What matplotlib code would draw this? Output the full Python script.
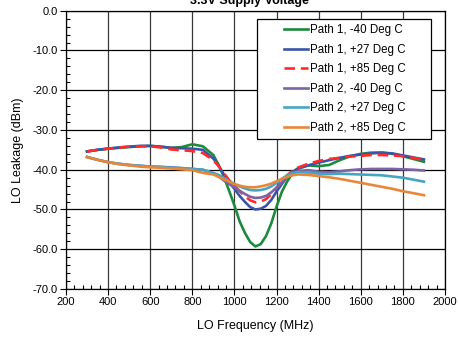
import matplotlib
matplotlib.use('Agg')
import matplotlib.pyplot as plt
from matplotlib.legend_handler import HandlerLine2D
from matplotlib.ticker import MultipleLocator
import numpy as np

plt.rcParams['font.family'] = ['Liberation Sans', 'DejaVu Sans']

# ------------ data ------------ #
freq = [300, 350, 400, 450, 500, 550, 600, 650, 700, 750, 800, 850,
        900, 925, 950, 975, 1000, 1025, 1050, 1075, 1100, 1125, 1150, 1175, 1200, 1225, 1250, 1275, 1300,
        1350, 1400, 1450, 1500, 1550, 1600, 1650, 1700, 1750, 1800, 1850, 1900]

p1_m40 = [-35.4, -35.0, -34.7, -34.5, -34.3, -34.1, -34.0, -34.2, -34.5, -34.3, -33.6, -34.1,
          -36.3, -38.8, -41.8, -45.3, -49.0, -53.0, -55.9, -58.2, -59.3, -58.7, -56.7, -53.5, -49.3, -45.6, -43.0, -41.0, -39.8,
          -38.9, -39.1, -38.8, -37.6, -36.6, -36.0, -35.7, -35.7, -36.0, -36.6, -37.3, -38.0]
p1_p27 = [-35.4, -35.0, -34.7, -34.4, -34.2, -34.0, -34.0, -34.2, -34.5, -34.6, -34.7, -35.0,
          -37.2, -39.0, -41.2, -43.2, -44.8, -46.6, -48.1, -49.4, -50.0, -49.8, -49.1, -47.6, -45.5, -43.6, -41.8, -40.6, -39.7,
          -38.9, -38.2, -37.6, -37.0, -36.5, -36.2, -35.9, -35.7, -35.9, -36.4, -36.9, -37.4]
p1_p85 = [-35.4, -35.0, -34.7, -34.4, -34.2, -34.1, -34.1, -34.4, -34.9, -35.1, -35.3, -35.8,
          -37.6, -39.1, -40.9, -42.6, -44.0, -45.4, -46.7, -47.7, -48.2, -48.0, -47.4, -46.2, -44.5, -42.8, -41.4, -40.3, -39.5,
          -38.5, -37.8, -37.3, -37.0, -36.7, -36.5, -36.3, -36.3, -36.4, -36.6, -37.0, -37.6]
p2_m40 = [-36.8, -37.5, -38.1, -38.5, -38.8, -39.0, -39.2, -39.3, -39.4, -39.6, -39.8, -40.0,
          -40.9, -41.7, -42.7, -43.6, -44.4, -45.3, -46.1, -46.8, -47.1, -47.0, -46.6, -45.7, -44.5, -43.2, -41.9, -41.0, -40.4,
          -40.1, -40.5, -40.6, -40.4, -40.1, -39.9, -39.8, -39.8, -39.8, -39.9, -40.0, -40.2]
p2_p27 = [-36.8, -37.5, -38.1, -38.5, -38.8, -39.0, -39.2, -39.3, -39.5, -39.6, -39.8, -40.0,
          -40.8, -41.3, -42.1, -42.9, -43.6, -44.2, -44.7, -45.1, -45.2, -45.1, -44.8, -44.2, -43.3, -42.3, -41.4, -40.8, -40.6,
          -40.7, -41.0, -41.1, -41.0, -41.1, -41.2, -41.3, -41.4, -41.7, -42.0, -42.5, -43.0]
p2_p85 = [-36.8, -37.5, -38.1, -38.6, -38.9, -39.2, -39.4, -39.5, -39.7, -39.9, -40.1, -40.8,
          -41.2, -41.8, -42.4, -43.0, -43.6, -44.0, -44.3, -44.4, -44.4, -44.2, -43.9, -43.5, -42.9, -42.3, -41.8, -41.4, -41.2,
          -41.3, -41.6, -41.9, -42.3, -42.8, -43.3, -43.8, -44.3, -44.8, -45.4, -45.9, -46.4]

labels = ['Path 1, -40 Deg C', 'Path 1, +27 Deg C', 'Path 1, +85 Deg C',
          'Path 2, -40 Deg C', 'Path 2, +27 Deg C', 'Path 2, +85 Deg C']
xticks = [200, 400, 600, 800, 1000, 1200, 1400, 1600, 1800, 2000]
yticks = [0, -10, -20, -30, -40, -50, -60, -70]


# legend handle drawn only on the right part of the handle box
class RightLine(HandlerLine2D):
    def get_xdata(self, legend, xdescent, ydescent, width, height, fontsize):
        x0 = -xdescent + width * 0.48
        x1 = -xdescent + width
        return np.array([x0, x1]), np.array([(x0 + x1) / 2])


# -------------- FIGURE PLOT -------------------- #
fig = plt.figure(figsize=(4.58, 3.39), dpi=100)
ax = fig.add_axes([0.144, 0.1475, 0.8276, 0.8209])

series = [p1_m40, p1_p27, p1_p85, p2_m40, p2_p27, p2_p85]
colors = ['#1d8a3e', '#3a55a6', '#ff2a2a', '#7d62a6', '#46a6c2', '#e8873a']
styles = ['-', '-', (0, (4, 2.2)), '-', '-', '-']
lines = []
for s, c, ls, lab in zip(series, colors, styles, labels):
    l, = ax.plot(freq, s, color=c, linestyle=ls, linewidth=1.9, label=lab,
                 solid_joinstyle='round')
    lines.append(l)

ax.set_xlim(200, 2000)
ax.set_ylim(-70, 0)
ax.set_xticks(xticks)
ax.set_yticks(yticks)
ax.set_yticklabels(['%.1f' % v for v in yticks])
ax.xaxis.set_minor_locator(MultipleLocator(40))
ax.yaxis.set_minor_locator(MultipleLocator(2))
ax.tick_params(which='major', direction='out', length=4, width=0.8, labelsize=8, pad=2)
ax.tick_params(which='minor', direction='in', length=3, width=0.8)
ax.grid(which='major', axis='x', color='#3a3a3a', linewidth=0.9)
ax.grid(which='major', axis='y', color='black', linewidth=0.9)
ax.set_axisbelow(True)
for sp in ax.spines.values():
    sp.set_linewidth(0.9)

ax.set_xlabel('LO Frequency (MHz)', fontsize=9, labelpad=9)
ax.set_ylabel('LO Leakage (dBm)', fontsize=9, labelpad=6)

fig.text(249 / 458, 1 - 4 / 339, '3.3V Supply Voltage', fontsize=9, fontweight='bold',
         ha='center', va='baseline')

leg = ax.legend(lines, labels,
                loc='upper left',
                bbox_to_anchor=(256.7 / 458, 1 - 136.7 / 339, 174.3 / 458, 117.4 / 339),
                bbox_transform=fig.transFigure,
                mode='expand',
                borderaxespad=0,
                fontsize=8.3,
                handlelength=4.0,
                handletextpad=0.15,
                borderpad=0.45,
                labelspacing=0.65,
                frameon=True,
                fancybox=False,
                framealpha=1,
                edgecolor='black',
                handler_map={l: RightLine() for l in lines})
leg.get_frame().set_linewidth(0.9)

fig.savefig('out.png', dpi=100)
